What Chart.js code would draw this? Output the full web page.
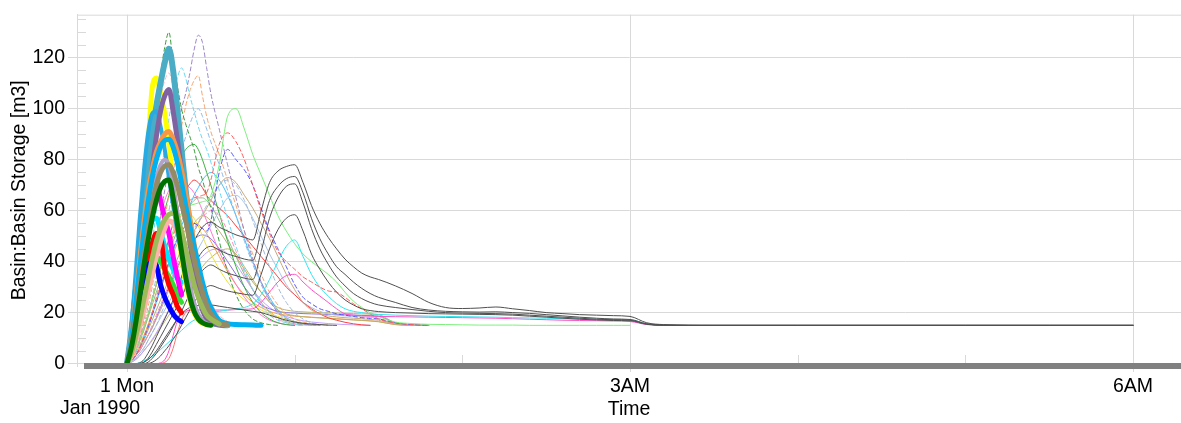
<!DOCTYPE html>
<html><head><meta charset="utf-8">
<script src="https://cdn.jsdelivr.net/npm/chart.js@4.4.1/dist/chart.umd.min.js"></script>
<style>html,body{margin:0;padding:0;background:#fff;}#wrap{width:1181px;height:423px;position:relative;}</style>
</head><body><div id="wrap"><canvas id="c"></canvas></div>
<script>
// ---- time grid (hours after 1 Jan 1990 00:00) ----
const hours = [0,0.025,0.05,0.075,0.1,0.125,0.15,0.175,0.2,0.225,0.25,0.275,0.3,0.325,0.35,0.375,0.4,0.425,0.45,0.475,0.5,
 0.55,0.6,0.65,0.7,0.75,0.8,0.85,0.9,0.95,1.0,1.05,1.1,1.15,1.2,1.25,1.3,1.35,1.4,1.45,1.5,
 1.6,1.7,1.8,1.9,2.0,2.1,2.2,2.3,2.4,2.5,2.6,2.7,2.8,2.9,3.0,
 3.1,3.2,3.5,4,5,6];

// ---- tick labels ----
const xTickHours = [0, 3, 6];
const xTickText = ['1 Mon', '3AM', '6AM'];
const xDateLine = 'Jan 1990';
const yTickValues = [0, 20, 40, 60, 80, 100, 120];
const xTitle = 'Time';
const yTitle = 'Basin:Basin Storage [m3]';

// ---- series values (Basin Storage, m3) ----
const yellowThick = [0,8,21,45,66,85,108,112,106,98,86,70,55,42,32,25,20,17,15.8,15.3,15];
const tealThick = [0,12,27,43,60,76,90,101,110,118,123.5,115,100,84,68,54,41,31,24,19,16.5,15.3,15];
const purpleThick = [0,6,16,30,46,62,76,89,99,105,107.5,99,88,76,62,48,36,27,21,17.5,16,15.2,15];
const orangeThick = [0,10,24,40,55,67,76,83,87,90,91,88,83,76,67,57,47,38,30,24,20,16,15];
const skyThick = [0,9,22,37,51,63,73,80,85,87.5,88,85,79,71,62,54,46,39,32,26,22,17,15.7,15.3,15.2,15.1,15];
const brownThick = [0,7,17,29,41,52,62,70,75,77.5,78,75,70,63,56,48,41,34,28,23,19.5,16,15.2];
const darkGreenThick = [0,6,15,26,38,48,57,64,69,71.5,72,65,55,44,34,26,20.5,17.5,16,15.3,15];
const oliveThick = [0,4,10,17,25,33,41,48,53,56.5,58.5,59,57,52,45,38,31,26,22,19,17.5,15.5];
const salmonThick = [0,3,8,14,21,28,35,42,48,53,56,55,52,47,42,37,32,28,24,21,19,16.5,15.3];
const lavenderThick = [0,8,20,33,46,57,66,73,78,80,78,70,60,49,39,31,24,19.5,17,15.8,15.2];
const dodgerThick = [0,14,34,56,75,90,98,99,93,84,73,62,52,43,35,28,23,19,17,15.8,15.2];
const magentaThick = [0,12,28,45,60,70,74,72,64,57,51,42,34,27];
const redThick = [0,6,14,23,32,40,47,51,50,37,31,27,22.5,20];
const blueThick = [0,7,16,25,33,38,40,38.5,31,26,22.5,19.5,17.5,16.5];
const cyanThick = [0,8,18,29,40,50,56,57,52,46,41,37,33.5,32];
const greenThick = [0,5,12,20,28,35,40,42,40,37,34,31,27,24];

const greenDashed = [0,5,14,27,42,60,80,98,113,124,130,118,109,100,94,89,84,77,72,66,61,48,36,27,21,17.5,16,15.3,15];
const purpleDashed = [0,2,5,10,17,26,36,47,58,68,77,85,92,100,106,114,123,128.8,126,116,106,92,78,65,52,41,32,25,20,17.5,16,15.5,15.2,15];
const orangeDashed = [0,2,5,9,15,22,30,39,48,57,66,75,84,93,101,107,111,113,105,97,91,82,72,62,52,43,35,28,23,19.5,17.5,16.3,15.6,15.2,15];
const cyanDashed = [0,3,8,15,24,35,47,60,73,85,96,105,112,116,112,105,99,93,88,84,79,68,57,46,37,29,23,19,17,16,15.3,15];
const steelDashed = [0,2,4,8,13,19,26,34,42,51,60,68,76,83,89,94,98,100,97,92,87,78,68,58,48,39,31,25,20.5,18,16.5,15.7,15.2,15];
const pinkDashed = [0,6,16,30,46,62,78,92,104,111,114,108,97,85,72,60,50,41,34,28,24,19,16.5,15.5,15];
const redDashed = [0,1,3,6,10,15,20,26,32,38,44,50,55,59,62,64,65,65.5,66,67,72,86,90.5,87,80,70,60,51,44,40,37,34,32,30,28.5,28,26,23.5,21.5,19.5,17.5,16,15.3,15];
const blueDashed = [0,1,3,6,10,14,19,24,30,35,40,45,49,52,54,55,55,54,53,52,56,75,84,80,76,70,61,52,45,38,31,26,23.5,21.5,20.5,19.5,19,18.5,18,17.7,17.5,16,15.3,15];
const steelDashed2 = [0,1,2,4,6,9,12,15,19,23,27,31,35,39,43,47,51,55,59,62,65,70,72,70,64,56,47,38,30,24,20,17.5,16,15.3,15];
const pinkDashed2 = [0,1,3,5,8,11,15,19,23,27,31,35,39,43,47,50,53,55.5,57.5,59,60,58,52,44,36,29,24,20,17.5,16,15.3,15];
const lightGreenLine = [0,2,5,9,14,19,25,31,37,42,47,52,56,59,61,62,62.5,63,63.5,64,66,78,97,100,92,82,74,66,58,52,47,43,40,37.5,35,32,28,24.5,22,20,18.5,16.3,15.7,15.4,15.3,15.2,15.1,15.1,15.1,15,15,15,15,15,15,15];
const blackA = [0,0,0,0.3,1.5,4,7,10.5,14,17.5,21,25,29.5,34,39,44,48,51,53.5,55,55.5,53.5,52,50.5,49.5,48.5,60,71,75.5,77.3,78,71,62,55,49.5,45,41,38,35.5,34,33,30.5,27.5,24,22,21.6,21.8,22.2,21.5,20.8,20,19.6,19.2,19,18.8,18.5,16,15.3,15,15,15,15];
const blackB = [0,0,0,0,0.5,2,4.5,7.5,10.5,13.5,16.5,19.5,22.5,26,30,34,38,41.5,44,45.5,46,44.5,43,42,41,40.5,52,64,69.5,72.5,73.4,67,57,49,43,38,35,32,29.5,27.5,26,24,22,21,20.5,20.3,20.2,20.3,20,19.7,19.2,18.7,18.2,17.8,17.5,17.3,15.6,15.1,15,15,15,15];
const blackC = [0,0,0,0,0,0.5,2,4,6.5,9,11.5,14.5,17.5,20.5,24,27.5,31,34,36.5,38,38.7,37,35.5,34.5,33.5,33,44,57,65,69.5,70.5,63,53,45,39,34,30.5,27.5,25.5,24,23,22,21.2,20.5,20,19.8,19.7,19.6,19.4,19,18.6,18.2,17.8,17.4,17.2,17,15.5,15.1,15,15,15,15];
const blackD = [0,0,0,0,0,0,0.5,1.5,3,5,7,9.5,12,15,18,21,24,26.5,28.5,30,30.6,29.5,28.5,27.8,27.2,26.8,35,45,52.5,57,58.4,52,43,37,32,28,25,23,21.5,20.8,20.4,20,19.8,19.6,19.5,19.4,19.3,19.2,19,18.6,18.2,17.8,17.4,17.1,16.9,16.8,15.4,15,15,15,15,15];
const blackE = [0,0,0,0,0.5,1.5,3,5,7.5,10,12.5,15,17.5,19.5,21,22,22.5,22.8,23,23,23,22.5,22,21.5,21,20.5,20,19,18,17,16.3,15.8,15.5,15.3,15.1,15];
const cyanThin = [0,0,0,0.3,1,1.8,2.8,4,5.5,7,8.5,10,11.5,13,14.5,16,17,18,19,19.5,20,20.5,21,21.5,22,23.5,27,33,40,46,48.5,42,35,30,26.5,23.5,21.5,20.5,20,19.5,19.3,19,18.8,18.6,18.5,18.4,18.3,18.2,18,17.9,17.8,17.6,17.5,17.4,17.3,17.2,15.5,15];
const pinkThin = [0,0,0,0,0,0,0,0,0.3,1.5,5,11,16.5,19.5,20.5,21,21,21,21,21,21,21,21,21.2,21.3,21.5,24,28,32,34.5,35,32,29,26.5,24,21.5,19.5,19,18.7,18.6,18.5,18.4,18.3,18.2,18.1,18,17.9,17.8,17.6,17.4,17.2,17,16.9,16.8,16.7,16.5,15.3,15];
const tanThin = [0,1,3,5,8,11,14,17.5,21,25,29,33,37,41,45,49,52,55,58,61,64,70,73,71,66,61,55,49,42,35,29,24,21,19.5,18.7,18.3,18,17.8,17.6,17.3,17,15.5,15.1,15];
const greenThin = [0,3,8,14,21,29,37,45,53,60,66,72,77,81,84,85.5,86,84,80,75,70,59,48,38,30,24,20,17.5,16,15.3,15];
const redThin = [0,2,5,9,14,19,25,31,37,43,49,55,60,64,68,70.5,72,71,69,66,64,61,58,54,50,46,42,38,34,30,27,24,21.5,19.5,18,17,16.2,15.6,15.2,15];
const pinkMid = [0,3,8,15,23,32,41,50,58,64,68,71,72,71,70,69,67,64,60,56,52,44,37,31,26,22,19,17,16,15.3,15];
const yellowThin = [0,2,5,9,14,19,25,31,37,42,47,51,55,58,60,59,57,54,50,46,43,37,32,28,25,23,21,19.5,18.5,17.5,16.5,15.8,15.3,15];
const khakiThin = [0,1,3,6,9,13,17,21,25,29,33,37,41,45,49,52,55,57,58,57.5,56,52,47,42,37,32,28,24,21,19.5,18.8,18.4,18.1,17.9,17.7,17.5,17.3,17.1,16.9,16.7,16.4,15.3,15];
const steelThin = [0,1,2,4,6,9,12,15,18,21,24,27,30,33,36,39,42,45,48,51,54,60,65,66,63,57,50,43,37,31,27,24,22,20.5,19.5,19,18.7,18.5,18.3,18.1,17.8,15.5,15.1,15];
const violetThin = [0,1,3,5,8,11,14,18,22,26,30,34,38,41,44,46.5,48.5,50,50.5,50,49,45,40,35,30,26,23,21.5,20.5,20,19.8,19.6,19.5,19.4,19.3,19.2,19.1,19,18.9,18.8,18.6,16,15.2,15];
const salmonThin = [0,0,0,0,0,0,0,0,0,0.5,2,6,12,17,20,21,20.5,19,17.5,16.5,16,15.5,15.2,15];
const seaGreenThin = [0,2,5,9,13,18,23,28,33,38,43,48,52,56,59,62,64,65,65,64,62,56,49,42,35,29,24,20.5,18,16.5,15.6,15.2,15];
const orangeThin = [0,2,4,7,11,15,20,25,30,35,39,43,47,50,52.5,54,55,54.5,53,51,48,42,36,31,27,24,22,20.5,19.5,19,18.6,18.4,18.2,18,17.8,17.6,17.4,17.2,17,16.8,16.5,15.3,15];
const skyThin = [0,1,3,6,10,14,19,24,29,34,39,44,49,54,58,62,66,69,72,74,75,72,66,58,49,40,32,26,21,18,16.5,15.6,15.2,15];
const lilacThin = [0,0.5,1.5,3,5,7,9.5,12,15,18,21,24,27,30,33,36,38.5,40.5,42,43.5,44.5,45,43,39,34,29,25,22,20,18.5,17.5,16.8,16.3,16,15.7,15.5,15.3,15.2,15.1,15];
const darkKhakiThin = [0,0.5,1.5,3,5,7,9,11.5,14,16.5,19,21.5,24,26.5,29,31.5,34,36,38,40,41.5,44,45,43,38,33,28,24.5,22,21,20.5,20.3,20.1,20,19.9,19.8,19.7,19.6,19.5,19.4,19.2,16,15.2,15];

// ---- styles (first = drawn on top) ----
const seriesStyles = [
  [darkGreenThick,'#007000',5,null],[oliveThick,'#9bbb59',5,null],[brownThick,'#948a64',5,null],
  [skyThick,'#00b0f0',5,null],[orangeThick,'#f79646',5,null],[lavenderThick,'#b3a2c7',4,null],
  [purpleThick,'#8064a2',5,null],[dodgerThick,'#29a9e1',4,null],[tealThick,'#4bacc6',6,null],
  [yellowThick,'#ffff00',5,null],[salmonThick,'#ffb3aa',5,null],
  [blueThick,'#0000ff',5,null],[redThick,'#ff0000',5,null],[magentaThick,'#ff00ff',5,null],
  [cyanThick,'#00e5ff',5,null],[greenThick,'#33dd33',5,null],
  [blackA,'#505050',1,null],[blackB,'#505050',1,null],[blackC,'#505050',1,null],[blackD,'#505050',1,null],
  [blackE,'#505050',1,null],
  [cyanThin,'#33e6f0',1,null],[pinkThin,'#ff50c8',1,null],[lightGreenLine,'#7cf07c',1,null],
  [greenDashed,'#3a9a3a',1,[4,3]],[purpleDashed,'#9b85c9',1,[4,3]],[orangeDashed,'#f8a36b',1,[4,3]],
  [cyanDashed,'#66d9f5',1,[4,3]],[steelDashed,'#8fb8e8',1,[4,3]],[pinkDashed,'#ffb6c1',1,[4,3]],
  [redDashed,'#ff5a5a',1,[4,3]],[blueDashed,'#5555ff',1,[4,3]],
  [steelDashed2,'#a0b8d8',1,[4,3]],[pinkDashed2,'#ff8fc0',1,[4,3]],
  [tanThin,'#c9a97e',1,null],[greenThin,'#3cb043',1,null],[redThin,'#ff4040',1,null],
  [pinkMid,'#ff7ad0',1,null],[yellowThin,'#f0e040',1,null],[khakiThin,'#b8b070',1,null],
  [steelThin,'#a9c5e8',1,null],[violetThin,'#8a6fe0',1,null],[salmonThin,'#ff7070',1,null],
  [seaGreenThin,'#8fbc8f',1,null],[orangeThin,'#ffa040',1,null],[skyThin,'#40c0ff',1,null],
  [lilacThin,'#c0a0ff',1,null],[darkKhakiThin,'#bdb76b',1,null]
];

const datasets = seriesStyles.map(([vals,color,w,dash]) => ({
  data: vals.map((v,i) => ({x: hours[i], y: v})),
  borderColor: color, borderWidth: w, borderDash: dash || [],
  pointRadius: 0, fill: false, cubicInterpolationMode: 'monotone',
  borderJoinStyle: 'round', borderCapStyle: 'round'
}));

const FONT = 'Liberation Sans, Arial, sans-serif';
const GRID = '#d9d9d9';

const decor = {
  id: 'decor',
  beforeDatasetsDraw(chart) {
    const {ctx, chartArea: a, scales: {x, y}} = chart;
    ctx.save();
    ctx.strokeStyle = GRID; ctx.lineWidth = 1;
    ctx.beginPath();
    for (let v = 5; v <= 135; v += 5) {
      if (v % 20 === 0) continue;
      const py = Math.round(y.getPixelForValue(v)) + 0.5;
      ctx.moveTo(a.left, py); ctx.lineTo(a.left + 9, py);
    }
    for (let h = 1; h <= 5; h++) {
      if (h === 3) continue;
      const px = Math.round(x.getPixelForValue(h)) + 0.5;
      ctx.moveTo(px, a.bottom - 3); ctx.lineTo(px, a.bottom - 11);
    }
    ctx.moveTo(a.left, a.top + 0.5); ctx.lineTo(a.right, a.top + 0.5);
    ctx.stroke();
    ctx.restore();
  },
  afterDatasetsDraw(chart) {
    const {ctx, chartArea: a} = chart;
    ctx.save();
    ctx.fillStyle = '#808080';
    ctx.fillRect(a.left + 7, a.bottom - 3, a.right - a.left - 7, 6);
    ctx.restore();
  },
  afterDraw(chart) {
    const {ctx, scales: {x}} = chart;
    ctx.save();
    ctx.font = '19.5px ' + FONT;
    ctx.fillStyle = '#000';
    ctx.textAlign = 'center'; ctx.textBaseline = 'middle';
    ctx.fillText(xDateLine, x.getPixelForValue(0) - 27, x.bottom - 14);
    ctx.restore();
  }
};

new Chart(document.getElementById('c'), {
  type: 'line',
  data: { datasets },
  plugins: [decor],
  options: {
    responsive: true, maintainAspectRatio: false, animation: false,
    layout: { padding: { top: 4, right: 0, left: 0, bottom: 0 } },
    plugins: { legend: { display: false }, tooltip: { enabled: false } },
    scales: {
      x: {
        type: 'linear', min: -0.2982, max: 6.286,
        afterFit: s => { s.height = 57; },
        afterBuildTicks: s => { s.ticks = [0,1,2,3,4,5,6].map(v => ({value: v})); },
        ticks: {
          autoSkip: false, maxRotation: 0, color: '#000', padding: 3,
          font: { family: FONT, size: 19.5 },
          callback: v => { const i = xTickHours.indexOf(v); return i >= 0 ? xTickText[i] : ''; }
        },
        grid: {
          color: c => (xTickHours.includes(c.tick && c.tick.value) ? GRID : 'rgba(0,0,0,0)'),
          tickColor: c => (xTickHours.includes(c.tick && c.tick.value) ? GRID : 'rgba(0,0,0,0)'),
          tickLength: 6, drawTicks: true
        },
        border: { display: false },
        title: { display: true, text: xTitle, color: '#000', font: { family: FONT, size: 19.5 }, padding: { top: 0, bottom: 2 } }
      },
      y: {
        type: 'linear', min: -0.95, max: 136.86,
        afterFit: s => { s.width = 77; },
        afterBuildTicks: s => { const t = []; for (let v = 0; v <= 135; v += 5) t.push({value: v}); s.ticks = t; },
        ticks: {
          autoSkip: false, color: '#000', padding: 3,
          font: { family: FONT, size: 19.5 },
          callback: v => (yTickValues.includes(v) ? String(v) : '')
        },
        grid: {
          color: c => (c.tick && yTickValues.includes(c.tick.value) ? GRID : 'rgba(0,0,0,0)'),
          tickColor: c => (c.tick && yTickValues.includes(c.tick.value) ? GRID : 'rgba(0,0,0,0)'),
          tickLength: 9, drawTicks: true
        },
        border: { display: true, color: GRID, width: 1 },
        title: { display: true, text: yTitle, color: '#000', font: { family: FONT, size: 19.5 }, padding: { top: 8, bottom: 0 } }
      }
    }
  }
});
</script></body></html>
